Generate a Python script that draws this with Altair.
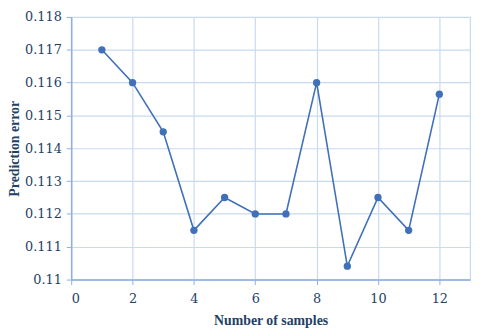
import altair as alt
import pandas as pd

samples = [1, 2, 3, 4, 5, 6, 7, 8, 9, 10, 11, 12]
errors = [0.1170, 0.1160, 0.1145, 0.1115, 0.1125, 0.1120, 0.1120, 0.1160, 0.11041, 0.1125, 0.1115, 0.11565]
x_ticks = [0, 2, 4, 6, 8, 10, 12]
y_ticks = [0.110, 0.111, 0.112, 0.113, 0.114, 0.115, 0.116, 0.117, 0.118]

df = pd.DataFrame({"n": samples, "err": errors})

line_color = "#3F70B8"
text_color = "#243F66"
grid_color = "#C9DAF0"
axis_color = "#8DB0DE"
title_font = "Liberation Serif"
label_font = "DejaVu Serif"

x = alt.X("n:Q", title="Number of samples",
          scale=alt.Scale(domain=[0, 13], nice=False, zero=False),
          axis=alt.Axis(values=x_ticks, format="d", labelFont=label_font, labelFontSize=13,
                        labelColor=text_color, titleFont=title_font, titleFontSize=14,
                        titleFontWeight="bold", titleColor=text_color, titlePadding=8,
                        labelPadding=8,
                        domainColor=axis_color, domainWidth=1.5, tickColor=axis_color,
                        tickSize=5, gridColor=grid_color, gridWidth=1.2))
y = alt.Y("err:Q", title="Prediction error",
          scale=alt.Scale(domain=[0.110, 0.118], nice=False, zero=False),
          axis=alt.Axis(values=y_ticks, format=".3~f", labelFont=label_font, labelFontSize=13,
                        labelColor=text_color, titleFont=title_font, titleFontSize=14,
                        titleFontWeight="bold", titleColor=text_color, titlePadding=3,
                        labelPadding=5,
                        domainColor=axis_color, domainWidth=1.5, tickColor=axis_color,
                        tickSize=5, gridColor=grid_color, gridWidth=1.2))

base = alt.Chart(df).encode(x=x, y=y)
line = base.mark_line(color=line_color, strokeWidth=1.6)
pts = base.mark_circle(color=line_color, size=55, opacity=1)

chart = (line + pts).properties(
    width=404, height=266,
    autosize=alt.AutoSizeParams(type="none"),
    padding={"left": 64, "top": 7, "right": 2, "bottom": 52},
).configure_view(stroke=grid_color, strokeWidth=1.2)

chart.save("out.html", embed_options={"renderer": "svg", "actions": False})
